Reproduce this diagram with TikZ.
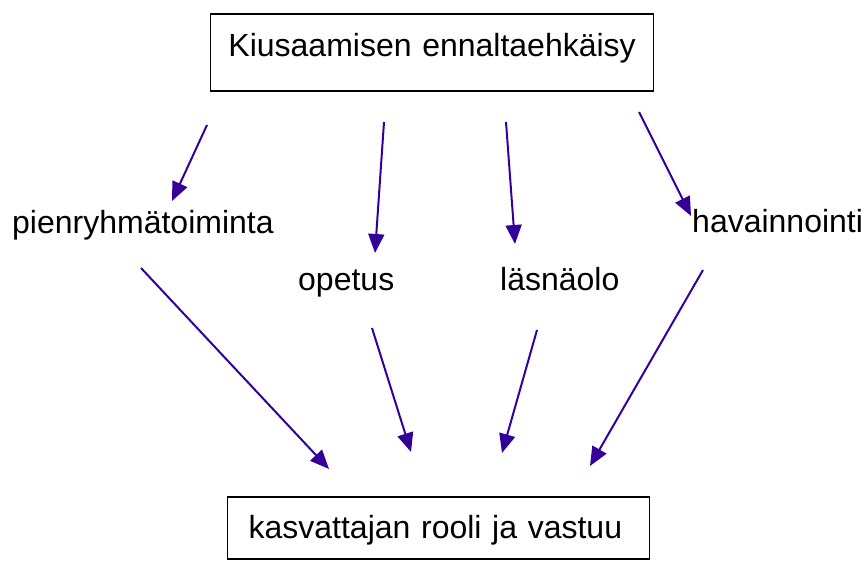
\documentclass[tikz,border=0pt]{standalone}
\usepackage{fontspec}
\setmainfont{Liberation Sans}
\usetikzlibrary{arrows.meta}
\definecolor{indigo}{RGB}{51,0,153}
\tikzset{
	box/.style={draw, line width=1.2pt, inner ysep=0pt, anchor=base west},
	label/.style={inner sep=0pt, anchor=base west},
	arr/.style={indigo, line width=2pt, -{Triangle[length=19pt,width=16pt]}}
}

\begin{document}
\begin{tikzpicture}[x=1pt,y=-1pt,font=\fontsize{32}{38}\selectfont]
	\useasboundingbox (0,0) rectangle (864,561);
	% boxes
	\node[box, align=center, inner xsep=9pt, text width=425pt, text height=43pt, text depth=34pt] (kiusaaminen) at (210,57) {Kiusaamisen ennaltaehkäisy};
	\node[box, align=left, inner xsep=21pt, text width=380pt, text height=41pt, text depth=21pt] (kasvattaja) at (227,538) {kasvattajan rooli ja vastuu};
	% keinot
	\node[label] (pienryhma) at (12,234) {pienryhmätoiminta};
	\node[label] (opetus) at (298,290) {opetus};
	\node[label] (lasnaolo) at (500,290) {läsnäolo};
	\node[label] (havainnointi) at (692,233) {havainnointi};
	% arrow ends
	\coordinate (p1) at (207,125); \coordinate (p2) at (172,201);
	\coordinate (o1) at (384,122); \coordinate (o2) at (375,253);
	\coordinate (l1) at (506,122); \coordinate (l2) at (515,244);
	\coordinate (h1) at (639,112); \coordinate (h2) at (691,216);
	\coordinate (p3) at (141,268); \coordinate (p4) at (329,469);
	\coordinate (o3) at (372,328); \coordinate (o4) at (411,452);
	\coordinate (l3) at (537,330); \coordinate (l4) at (502,453);
	\coordinate (h3) at (703,270); \coordinate (h4) at (590,466);
	\draw[arr] (p1) -- (p2);
	\draw[arr] (o1) -- (o2);
	\draw[arr] (l1) -- (l2);
	\draw[arr] (h1) -- (h2);
	\draw[arr] (p3) -- (p4);
	\draw[arr] (o3) -- (o4);
	\draw[arr] (l3) -- (l4);
	\draw[arr] (h3) -- (h4);
\end{tikzpicture}
\end{document}
